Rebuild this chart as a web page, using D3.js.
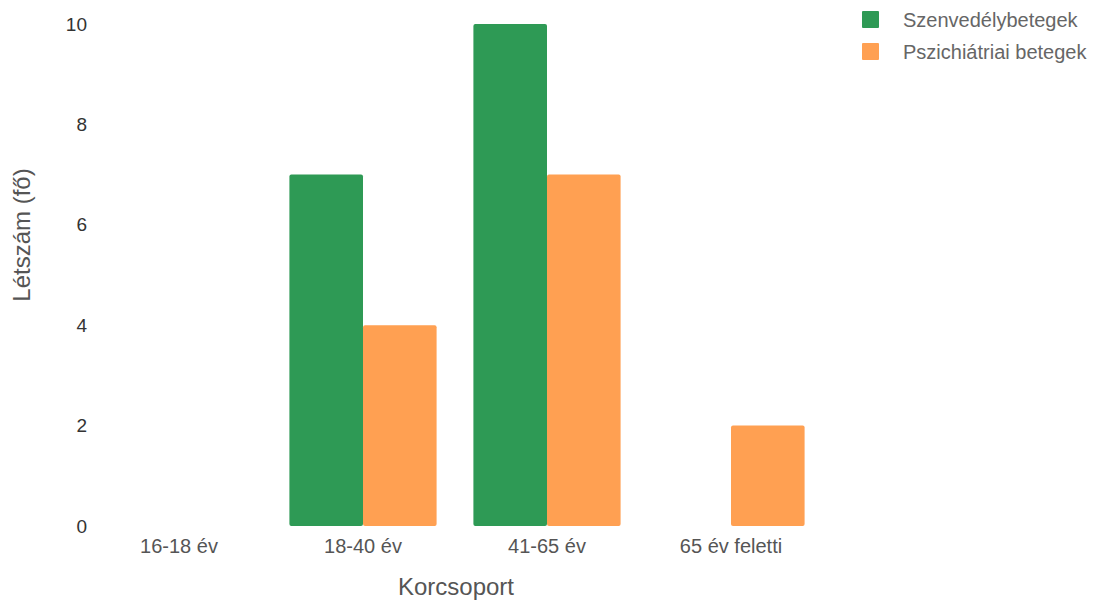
<!DOCTYPE html>
<html><head><meta charset="utf-8">
<script src="https://cdn.jsdelivr.net/npm/d3@7"></script>
<style>body{margin:0;background:#fff;} text{font-family:"Liberation Sans",Arial,sans-serif;}</style>
</head><body>
<svg id="c" width="1103" height="602"></svg>
<script>
const categories = ["16-18 év", "18-40 év", "41-65 év", "65 év feletti"];
const seriesNames = ["Szenvedélybetegek", "Pszichiátriai betegek"];
const szenvedely = [0, 7, 10, 0];
const pszichiatriai = [0, 4, 7, 2];
const yTicks = [0, 2, 4, 6, 8, 10];
const colors = ["#2e9a55", "#ffa052"];

const svg = d3.select("#c");
const x = d3.scaleBand().domain(categories).range([87, 823]).paddingInner(0.2).paddingOuter(0.1);
const x1 = d3.scaleBand().domain(seriesNames).range([0, x.bandwidth()]);
const y = d3.scaleLinear().domain([0, 10]).range([526, 24]);

const series = [szenvedely, pszichiatriai];
categories.forEach((c, i) => {
  series.forEach((s, k) => {
    if (s[i] > 0) {
      svg.append("rect")
        .attr("x", x(c) + x1(seriesNames[k]))
        .attr("y", y(s[i]))
        .attr("width", x1.bandwidth())
        .attr("height", y(0) - y(s[i]))
        .attr("rx", 2)
        .attr("fill", colors[k]);
    }
  });
});

const yAxis = svg.append("g").attr("transform", "translate(95,0)")
  .call(d3.axisLeft(y).tickValues(yTicks).tickSize(0).tickPadding(8));
yAxis.select(".domain").remove();
yAxis.selectAll("text").attr("font-size", 19).attr("fill", "#333").attr("font-family", "Liberation Sans, Arial, sans-serif");

const xAxis = svg.append("g").attr("transform", "translate(0,533)")
  .call(d3.axisBottom(x).tickSize(0).tickPadding(6));
xAxis.select(".domain").remove();
xAxis.selectAll("text").attr("font-size", 20).attr("fill", "#555").attr("font-family", "Liberation Sans, Arial, sans-serif");

svg.append("text").attr("x", 456).attr("y", 595).attr("text-anchor", "middle")
  .attr("font-size", 24).attr("fill", "#555").text("Korcsoport");
svg.append("text").attr("transform", "translate(30,235) rotate(-90)").attr("text-anchor", "middle")
  .attr("font-size", 24).attr("fill", "#555").text("Létszám (fő)");

const leg = svg.append("g");
seriesNames.forEach((n, k) => {
  leg.append("rect").attr("x", 862).attr("y", 11 + k * 32).attr("width", 17).attr("height", 17).attr("rx", 1).attr("fill", colors[k]);
  leg.append("text").attr("x", 903).attr("y", 27 + k * 32).attr("font-size", 20).attr("fill", "#666").text(n);
});
</script>
</body></html>
